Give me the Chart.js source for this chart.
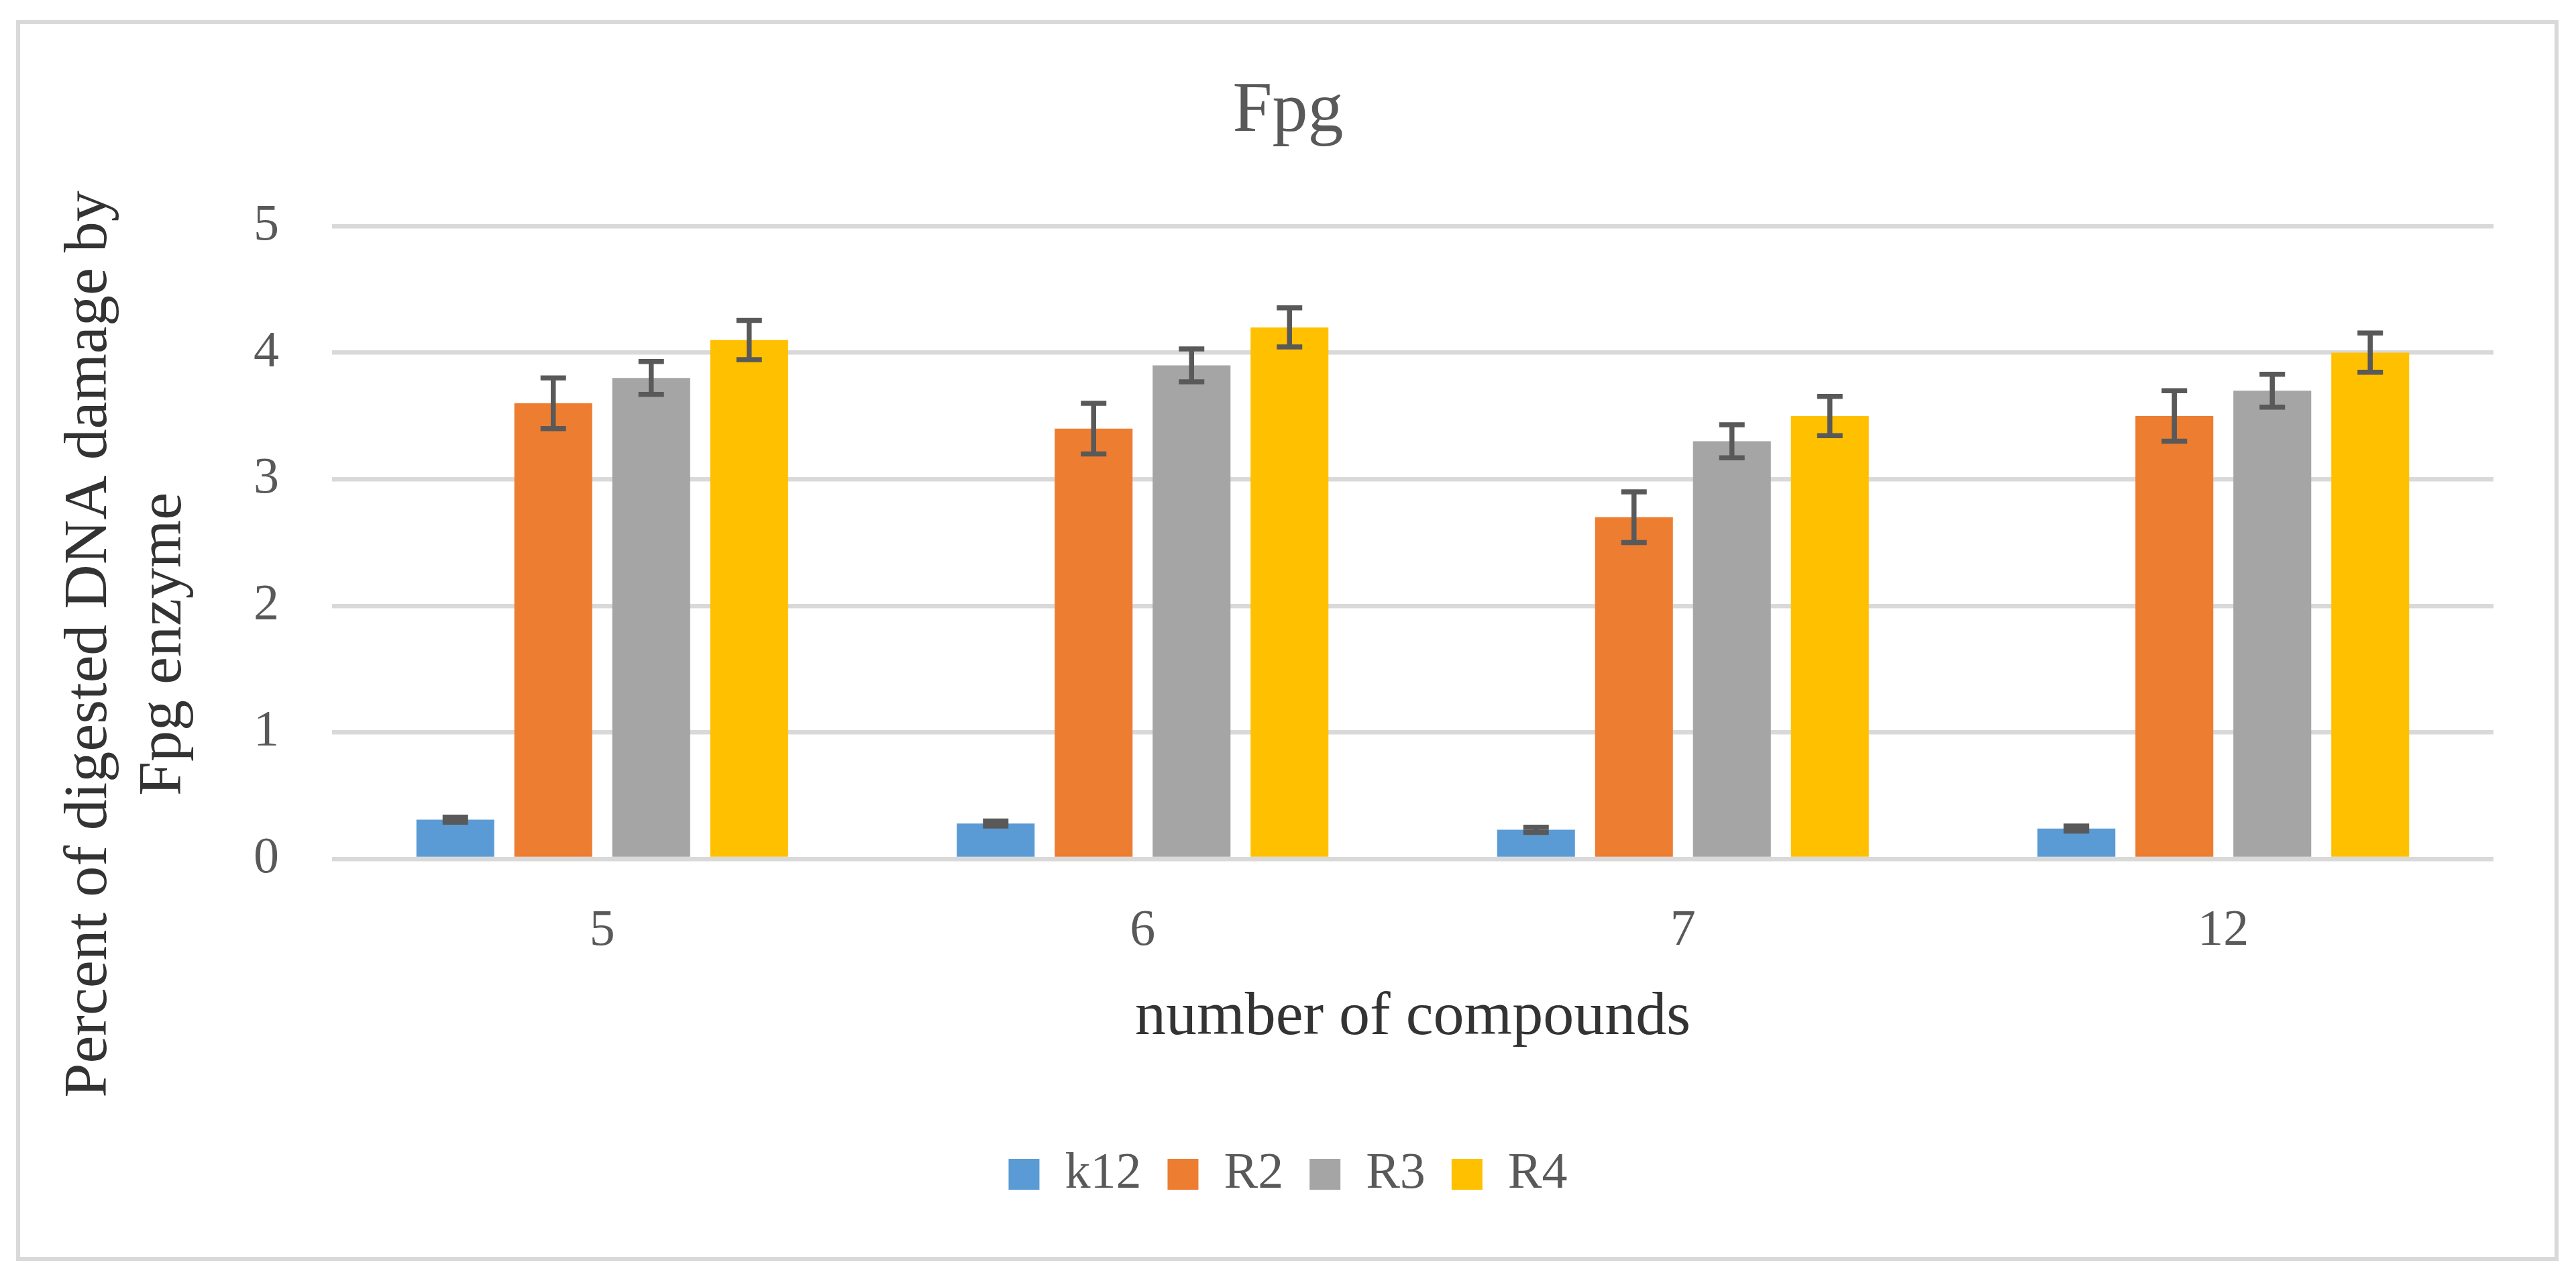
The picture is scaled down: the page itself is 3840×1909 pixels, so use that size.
<!DOCTYPE html>
<html>
<head>
<meta charset="utf-8">
<title>Fpg</title>
<script src="https://cdn.jsdelivr.net/npm/chart.js@4.4.1/dist/chart.umd.min.js"></script>
<style>
  html, body { margin: 0; padding: 0; background: #ffffff; }
  #wrap { width: 3840px; height: 1909px; }
</style>
</head>
<body>
<div id="wrap"><canvas id="fpgChart" width="3840" height="1909"></canvas></div>
<script>
// data
var categories = ['5', '6', '7', '12'];
var seriesNames = ['k12', 'R2', 'R3', 'R4'];
var k12 = [0.31, 0.28, 0.23, 0.24];
var r2  = [3.6, 3.4, 2.7, 3.5];
var r3  = [3.8, 3.9, 3.3, 3.7];
var r4  = [4.1, 4.2, 3.5, 4.0];
var k12Err = [0.02, 0.02, 0.02, 0.02];
var r2Err  = [0.2, 0.2, 0.2, 0.2];
var r3Err  = [0.13, 0.13, 0.13, 0.13];
var r4Err  = [0.155, 0.155, 0.155, 0.155];
var yTicks = [0, 1, 2, 3, 4, 5];
var yTitleLines = ['Percent of digested DNA damage by', 'Fpg enzyme'];

var colors = ['#5B9BD5', '#ED7D31', '#A5A5A5', '#FFC000'];
var values = [k12, r2, r3, r4];
var errors = [k12Err, r2Err, r3Err, r4Err];
var fontFamily = '"Liberation Serif", "DejaVu Serif", serif';

// outer frame like the office chart area border
var framePlugin = {
    id: 'frame',
    beforeDraw: function(chart){
        var ctx = chart.ctx;
        ctx.save();
        ctx.fillStyle = '#ffffff';
        ctx.fillRect(0, 0, chart.width, chart.height);
        ctx.strokeStyle = '#d9d9d9';
        ctx.lineWidth = 6;
        ctx.strokeRect(27, 33, 3784, 1843);
        ctx.restore();
    }
};

// error bars, drawn from the bar elements and the y scale
var errorBarPlugin = {
    id: 'errorBars',
    afterDatasetsDraw: function(chart){
        var ctx = chart.ctx;
        var yScale = chart.scales.y;
        ctx.save();
        ctx.strokeStyle = '#595959';
        ctx.lineWidth = 7.5;
        ctx.lineCap = 'butt';
        chart.data.datasets.forEach(function(ds, i){
            var meta = chart.getDatasetMeta(i);
            meta.data.forEach(function(bar, j){
                var v = ds.data[j];
                var e = errors[i][j];
                var top = yScale.getPixelForValue(v + e);
                var bot = yScale.getPixelForValue(v - e);
                var half = 19;
                ctx.beginPath();
                ctx.moveTo(bar.x, top);
                ctx.lineTo(bar.x, bot);
                ctx.moveTo(bar.x - half, top);
                ctx.lineTo(bar.x + half, top);
                ctx.moveTo(bar.x - half, bot);
                ctx.lineTo(bar.x + half, bot);
                ctx.stroke();
            });
        });
        ctx.restore();
    }
};

// two line vertical axis title (wider than the plot, so drawn here)
var yTitlePlugin = {
    id: 'yTitle',
    afterDraw: function(chart){
        var ctx = chart.ctx;
        var lineHeight = 110.4;
        ctx.save();
        ctx.fillStyle = '#333333';
        ctx.font = '92px ' + fontFamily;
        ctx.textAlign = 'center';
        ctx.textBaseline = 'middle';
        yTitleLines.forEach(function(line, k){
            ctx.save();
            ctx.translate(134 + k * lineHeight, 960);
            ctx.rotate(-Math.PI / 2);
            ctx.fillText(line, 0, 0);
            ctx.restore();
        });
        ctx.restore();
    }
};

var datasets = seriesNames.map(function(name, i){
    return {
        label: name,
        data: values[i],
        backgroundColor: colors[i],
        borderWidth: 0,
        categoryPercentage: 0.725,
        barPercentage: 0.795
    };
});

var ctx = document.getElementById('fpgChart');
var fpgChart = new Chart(ctx, {
    type: 'bar',
    data: {
        labels: categories,
        datasets: datasets
    },
    plugins: [framePlugin, errorBarPlugin, yTitlePlugin],
    options: {
        responsive: false,
        devicePixelRatio: 1,
        animation: false,
        layout: {
            padding: { left: 123, right: 123, top: 0, bottom: 111 }
        },
        plugins: {
            title: {
                display: true,
                text: 'Fpg',
                color: '#595959',
                font: { family: fontFamily, size: 106, weight: 'normal', lineHeight: 1.2 },
                padding: { top: 103.5, bottom: 106.3 }
            },
            legend: {
                display: true,
                position: 'bottom',
                labels: {
                    color: '#595959',
                    font: { family: fontFamily, size: 76 },
                    boxWidth: 46,
                    boxHeight: 46,
                    padding: 39
                }
            },
            tooltip: { enabled: false }
        },
        scales: {
            x: {
                grid: { display: false, drawTicks: false },
                border: { display: false },
                ticks: {
                    color: '#595959',
                    font: { family: fontFamily, size: 76, lineHeight: 1.2 },
                    padding: 62
                },
                title: {
                    display: true,
                    text: 'number of compounds',
                    color: '#333333',
                    font: { family: fontFamily, size: 92, lineHeight: 1.2 },
                    padding: { top: 0, bottom: 101 }
                },
                afterFit: function(scale){ scale.height = 393; }
            },
            y: {
                min: yTicks[0],
                max: yTicks[yTicks.length - 1],
                afterBuildTicks: function(scale){
                    scale.ticks = yTicks.map(function(v){ return { value: v }; });
                },
                grid: { color: '#d9d9d9', lineWidth: 6.5, drawTicks: false },
                border: { display: false },
                ticks: {
                    color: '#595959',
                    font: { family: fontFamily, size: 76, lineHeight: 1.2 },
                    padding: 79
                },
                afterFit: function(scale){ scale.width = 372; }
            }
        }
    }
});
</script>
</body>
</html>
